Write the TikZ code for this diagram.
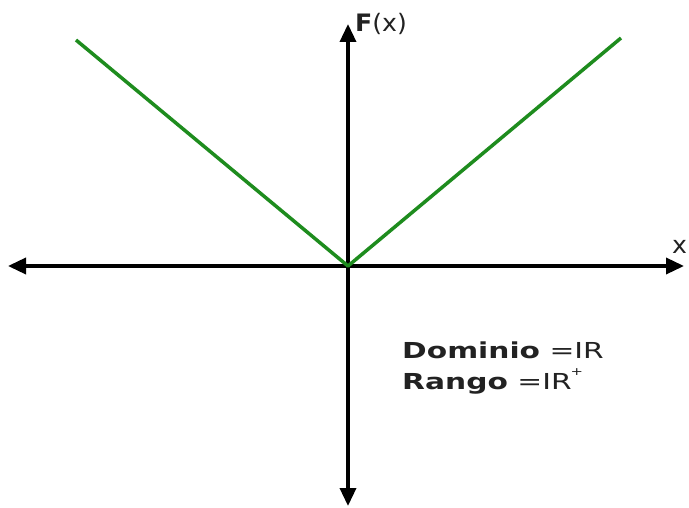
\documentclass[tikz,border=0pt]{standalone}
\usepackage{fontspec}
\usepackage{graphicx}
\usetikzlibrary{arrows.meta}
\newfontfamily\labelfont{DejaVu Sans}[FakeStretch=1.05]
\newfontfamily\infofont{DejaVu Sans}[FakeStretch=1.35]
\definecolor{cGraph}{HTML}{1E8C1E}
\definecolor{cText}{HTML}{222222}
\tikzset{
  axisline/.style={
    {Triangle[length=18pt,width=16pt]}-{Triangle[length=18pt,width=16pt]},
    line width=3.5pt,
    draw=black
  },
  graphline/.style={
    line width=3.5pt,
    draw=cGraph,
    line join=round
  },
  axislabel/.style={
    inner sep=0pt,
    anchor=base west,
    text=cText,
    font=\labelfont\fontsize{24}{28}\selectfont
  },
  infotext/.style={
    inner sep=0pt,
    anchor=base west,
    text=cText,
    font=\infofont\fontsize{22}{26}\selectfont
  }
}
\newcommand{\supplus}{\kern-1pt\raisebox{14pt}{\fontsize{11}{11}\selectfont +}}

\begin{document}
\begin{tikzpicture}[x=1pt, y=-1pt]
  \useasboundingbox (0,0) rectangle (689,508);

  \coordinate (O) at (348,266);
  \coordinate (xmin) at (8,266);
  \coordinate (xmax) at (684,266);
  \coordinate (ymin) at (348,506);
  \coordinate (ymax) at (348,24);
  \coordinate (left) at (76,40);
  \coordinate (right) at (621,38);

  % ejes
  \draw[axisline] (xmin) -- (xmax);
  \draw[axisline] (ymin) -- (ymax);

  % f(x) = |x|
  \draw[graphline] (left) -- (O) -- (right);

  \node[axislabel] (fx) at (355,32) {\textbf{F}(x)};
  \node[axislabel] (xlab) at (672,254) {x};

  \node[infotext] (dominio) at (402,358) {\textbf{Dominio} =IR};
  \node[infotext] (rango) at (402,389) {\textbf{Rango} =IR\supplus};
\end{tikzpicture}
\end{document}
